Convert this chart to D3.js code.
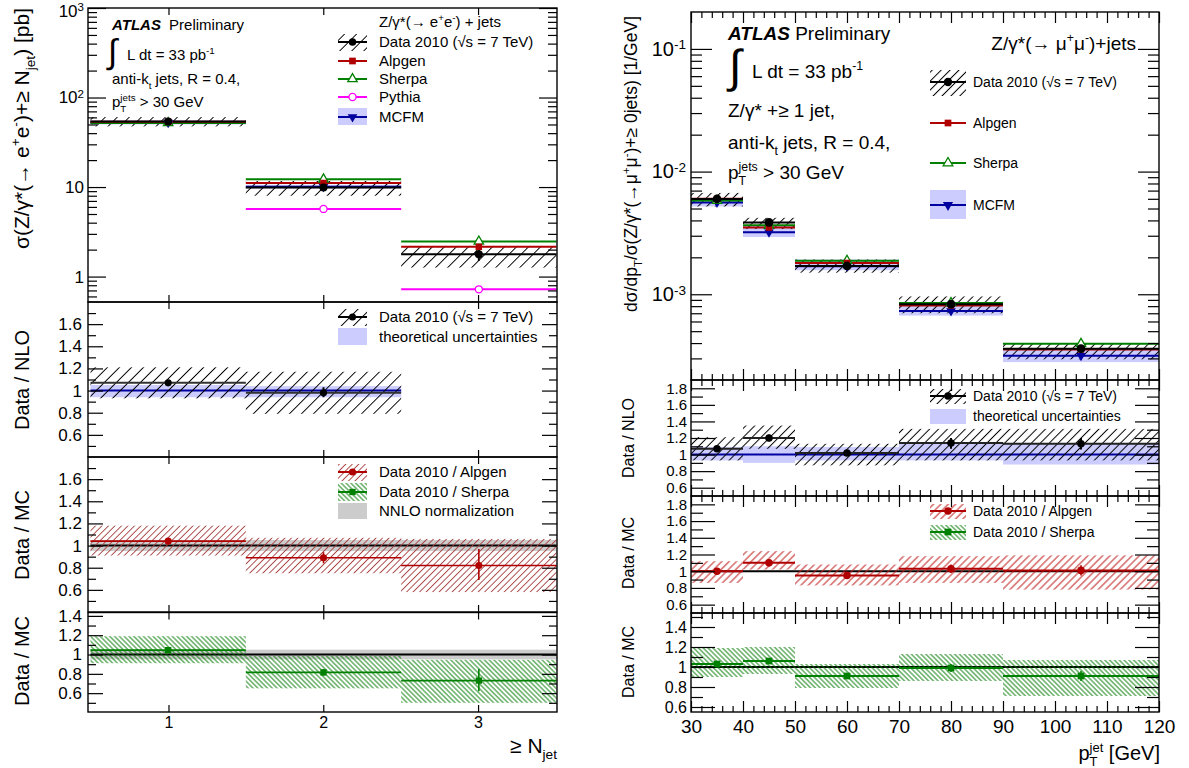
<!DOCTYPE html>
<html><head><meta charset="utf-8">
<script src="https://cdn.jsdelivr.net/npm/d3@7"></script>
<style>
body{margin:0;background:#fff}
svg{display:block}
text{font-family:"Liberation Sans",Arial,Helvetica,sans-serif}
</style></head>
<body><svg id="c" width="1189" height="768"></svg>
<script>
// ================= DATA : left plot (Z->ee, inclusive jet multiplicity) =================
const njetBins    = [[0.5,1.5],[1.5,2.5],[2.5,3.5]];
const njetCenters = [1, 2, 3];
const njetTicks   = [1, 2, 3];
const eeData      = [54, 9.9, 1.78];
const eeDataErrLo = [52.8, 9.5, 1.5];
const eeDataErrHi = [55.2, 10.3, 2.1];
const eeSystLo    = [47.6, 8.0, 1.26];
const eeSystHi    = [60.5, 11.7, 2.2];
const eeAlpgen    = [53.5, 11.1, 2.15];
const eeSherpa    = [52, 12.2, 2.47];
const eePythia    = [53, 5.7, 0.72];
const eeMcfm      = [52.5, 10.1, null];
const eeMcfmLo    = [50, 9.6, null];
const eeMcfmHi    = [55.5, 10.6, null];
// Data / NLO
const eeNlo       = [1.07, 0.98];
const eeNloErrLo  = [1.05, 0.94];
const eeNloErrHi  = [1.09, 1.03];
const eeNloSysLo  = [0.93, 0.79];
const eeNloSysHi  = [1.21, 1.17];
const eeTheoLo    = [0.94, 0.94];
const eeTheoHi    = [1.05, 1.04];
// Data / Alpgen
const eeAlp       = [1.04, 0.89, 0.82];
const eeAlpErrLo  = [1.025, 0.84, 0.69];
const eeAlpErrHi  = [1.055, 0.94, 0.97];
const eeAlpSysLo  = [0.91, 0.75, 0.58];
const eeAlpSysHi  = [1.18, 1.07, 1.06];
// Data / Sherpa
const eeShe       = [1.045, 0.815, 0.73];
const eeSheErrLo  = [1.03, 0.78, 0.62];
const eeSheErrHi  = [1.06, 0.85, 0.85];
const eeSheSysLo  = [0.91, 0.65, 0.50];
const eeSheSysHi  = [1.19, 0.985, 0.945];
const nnloBand    = [0.95, 1.05];

// ================= DATA : right plot (Z->mumu, leading jet pT) =================
const ptBins    = [[30,40],[40,50],[50,70],[70,90],[90,120]];
const ptCenters = [35, 45, 60, 80, 105];
const ptTicks   = [30, 40, 50, 60, 70, 80, 90, 100, 110, 120];
const mmData    = [5.98e-3, 3.85e-3, 1.70e-3, 8.3e-4, 3.6e-4];
const mmErrLo   = [5.85e-3, 3.72e-3, 1.65e-3, 7.9e-4, 3.35e-4];
const mmErrHi   = [6.1e-3, 3.98e-3, 1.75e-3, 8.7e-4, 3.85e-4];
const mmSysLo   = [5.2e-3, 3.4e-3, 1.5e-3, 7.0e-4, 2.95e-4];
const mmSysHi   = [6.7e-3, 4.2e-3, 1.92e-3, 9.6e-4, 4.0e-4];
const mmAlpgen  = [6.0e-3, 3.5e-3, 1.80e-3, 8.1e-4, 3.55e-4];
const mmSherpa  = [5.8e-3, 3.65e-3, 1.88e-3, 8.5e-4, 3.95e-4];
const mmMcfm    = [5.6e-3, 3.2e-3, 1.69e-3, 7.3e-4, 3.15e-4];
const mmMcfmLo  = [5.2e-3, 2.93e-3, 1.57e-3, 6.7e-4, 2.8e-4];
const mmMcfmHi  = [6.1e-3, 3.6e-3, 1.92e-3, 8.0e-4, 3.6e-4];
// Data / NLO
const mmNlo      = [1.07, 1.20, 1.02, 1.14, 1.13];
const mmNloErrLo = [1.04, 1.16, 0.99, 1.07, 1.06];
const mmNloErrHi = [1.09, 1.24, 1.04, 1.20, 1.20];
const mmNloSysLo = [0.93, 1.07, 0.87, 0.93, 0.93];
const mmNloSysHi = [1.21, 1.35, 1.13, 1.31, 1.31];
const mmTheoLo   = [0.93, 0.90, 0.93, 0.93, 0.88];
const mmTheoHi   = [1.09, 1.10, 1.09, 1.13, 1.13];
// Data / Alpgen
const mmAlp      = [1.00, 1.10, 0.95, 1.03, 1.01];
const mmAlpErrLo = [0.98, 1.07, 0.93, 0.98, 0.95];
const mmAlpErrHi = [1.02, 1.13, 0.97, 1.08, 1.07];
const mmAlpSysLo = [0.86, 1.02, 0.83, 0.86, 0.78];
const mmAlpSysHi = [1.12, 1.24, 1.08, 1.18, 1.19];
// Data / Sherpa
const mmShe      = [1.03, 1.06, 0.91, 0.99, 0.91];
const mmSheErrLo = [1.01, 1.03, 0.89, 0.95, 0.86];
const mmSheErrHi = [1.05, 1.09, 0.93, 1.03, 0.96];
const mmSheSysLo = [0.90, 0.93, 0.79, 0.86, 0.71];
const mmSheSysHi = [1.19, 1.20, 1.03, 1.13, 1.07];

// ================= STYLE =================
const FONT = '"Liberation Sans",Arial,Helvetica,sans-serif';
const C = {red:"#b00000", green:"#008000", blue:"#0000a0", band:"#ccccff",
           gray:"#cccccc", mag:"#ff00ff", hred:"#a84040", hredR:"#c02020", hgreen:"#007800"};

const svg = d3.select("#c");
svg.append("rect").attr("width",1189).attr("height",768).attr("fill","#fff");
const defs = svg.append("defs");
function hatch(id, sp, ang, col, w){
  const p = defs.append("pattern").attr("id",id).attr("patternUnits","userSpaceOnUse")
    .attr("width",sp).attr("height",sp).attr("patternTransform",`rotate(${ang})`);
  p.append("line").attr("x1",sp/2).attr("x2",sp/2).attr("y1",-1).attr("y2",sp+1)
    .attr("stroke",col).attr("stroke-width",w);
}
hatch("hBL", 8.5, 45, "#000", 1);
hatch("hBR", 6.3, 45, "#000", 1);
hatch("hRL", 4.6, 45, C.hred, 0.9);
hatch("hRR", 5.2, 45, C.hredR, 1);
hatch("hG", 3.4, -45, C.hgreen, 0.9);

// ================= HELPERS =================
function rows(bins, a, b){ return bins.map((bn,i)=>({b:bn, a:a[i], c:b?b[i]:null})).filter(d=>d.a!=null); }
function boxes(g,x,y,bins,lo,hi,fill){
  g.append("g").selectAll("rect").data(rows(bins,lo,hi)).join("rect")
   .attr("x",d=>x(d.b[0])).attr("width",d=>x(d.b[1])-x(d.b[0]))
   .attr("y",d=>y(d.c)).attr("height",d=>y(d.a)-y(d.c)).attr("fill",fill);
}
function hlines(g,x,y,bins,vals,col,w){
  g.append("g").selectAll("line").data(rows(bins,vals)).join("line")
   .attr("x1",d=>x(d.b[0])).attr("x2",d=>x(d.b[1])).attr("y1",d=>y(d.a)).attr("y2",d=>y(d.a))
   .attr("stroke",col).attr("stroke-width",w);
}
function vbars(g,x,y,cent,lo,hi,col,w){
  g.append("g").selectAll("line").data(rows(cent,lo,hi)).join("line")
   .attr("x1",d=>x(d.b)).attr("x2",d=>x(d.b)).attr("y1",d=>y(d.a)).attr("y2",d=>y(d.c))
   .attr("stroke",col).attr("stroke-width",w);
}
function sym(type,size){
  const m={circle:d3.symbolCircle,square:d3.symbolSquare,tri:d3.symbolTriangle,tridown:d3.symbolTriangle};
  return d3.symbol().type(m[type]).size(size)();
}
function marks(g,x,y,cent,vals,type,col,size,open){
  g.append("g").selectAll("path").data(rows(cent,vals)).join("path")
   .attr("d",sym(type,size))
   .attr("transform",d=>`translate(${x(d.b)},${y(d.a)})${type==="tridown"?" rotate(180)":""}`)
   .attr("fill",open?"#fff":col).attr("stroke",col).attr("stroke-width",open?1.3:0);
}
function rich(g,x,y,segs,size,o={}){
  const t=g.append("text").attr("x",x).attr("y",y).attr("font-size",size)
    .attr("text-anchor",o.anchor||"start").attr("fill","#000");
  if(o.transform) t.attr("transform",o.transform);
  let shift=0, prev=null;
  for(const s0 of segs){
    const s = typeof s0==="string"?{t:s0}:s0;
    const target = s.sup ? -size*0.42 : s.sub ? size*0.3 : 0;
    const sp = t.append("tspan").text(s.t)
      .attr("font-size",(s.sup||s.sub)?size*(s.scale||0.65):(s.size||size))
      .attr("dy",target-shift);
    if(s.bold) sp.attr("font-weight","bold");
    if(s.italic) sp.attr("font-style","italic");
    if(s.dx) sp.attr("dx",s.dx);
    if(s.stack && prev) sp.attr("dx",-prev.node().getComputedTextLength());
    shift=target; prev=sp;
  }
  return t;
}
function styleAxis(a,size){
  a.attr("font-family",FONT).attr("font-size",size);
  a.select(".domain").remove();
  a.selectAll(".tick line").attr("stroke-width",1.2);
}
// frame + ticks for a panel
function panelAxes(g,x,y,P){
  const [x0,x1]=x.range(), [y1,y0]=y.range();
  const al = g.append("g").attr("transform",`translate(${x0},0)`)
    .call(d3.axisLeft(y).tickValues(P.yMajor).tickSizeInner(-P.yMaj).tickSizeOuter(0).tickPadding(P.pad).tickFormat(P.fmt));
  styleAxis(al,P.lsize);
  if(P.post) P.post(al);
  const aml = g.append("g").attr("transform",`translate(${x0},0)`)
    .call(d3.axisLeft(y).tickValues(P.yMinor).tickSizeInner(-P.yMin).tickSizeOuter(0).tickFormat(""));
  styleAxis(aml,10);
  const ar = g.append("g").attr("transform",`translate(${x1},0)`)
    .call(d3.axisRight(y).tickValues(P.yMajor).tickSizeInner(-P.yMaj).tickSizeOuter(0).tickFormat(""));
  styleAxis(ar,10);
  const amr = g.append("g").attr("transform",`translate(${x1},0)`)
    .call(d3.axisRight(y).tickValues(P.yMinor).tickSizeInner(-P.yMin).tickSizeOuter(0).tickFormat(""));
  styleAxis(amr,10);
  const xt = g.append("g").attr("transform",`translate(0,${y0})`)
    .call(d3.axisTop(x).tickValues(P.xMajor).tickSizeInner(-P.xMaj).tickSizeOuter(0).tickFormat(""));
  styleAxis(xt,10);
  const xb = g.append("g").attr("transform",`translate(0,${y1})`)
    .call(d3.axisBottom(x).tickValues(P.xMajor).tickSizeInner(-P.xMaj).tickSizeOuter(0)
      .tickPadding(P.xPad||6).tickFormat(P.xLabels?d3.format("d"):""));
  styleAxis(xb,P.xlsize||16);
  if(P.xMinor){
    const xtm = g.append("g").attr("transform",`translate(0,${y0})`)
      .call(d3.axisTop(x).tickValues(P.xMinor).tickSizeInner(-P.xMin).tickSizeOuter(0).tickFormat(""));
    styleAxis(xtm,10);
    const xbm = g.append("g").attr("transform",`translate(0,${y1})`)
      .call(d3.axisBottom(x).tickValues(P.xMinor).tickSizeInner(-P.xMin).tickSizeOuter(0).tickFormat(""));
    styleAxis(xbm,10);
  }
  g.append("rect").attr("x",x0).attr("y",y0).attr("width",x1-x0).attr("height",y1-y0)
   .attr("fill","none").attr("stroke","#000").attr("stroke-width",1.4);
}
function logMinor(lo,hi){
  const out=[]; for(let n=Math.floor(Math.log10(lo)); n<=Math.ceil(Math.log10(hi)); n++)
    for(let k=2;k<=9;k++){const v=k*Math.pow(10,n); if(v>lo*1.0001&&v<hi*0.9999) out.push(+v.toPrecision(3));}
  return out;
}
function linMinor(lo,hi,step,majors){
  const out=[]; for(let v=Math.ceil(lo/step)*step; v<=hi+1e-9; v+=step){const r=+v.toFixed(3); if(!majors.some(m=>Math.abs(m-r)<1e-6)) out.push(r);} return out;
}
function powLabels(a){
  a.selectAll(".tick text").each(function(d){
    const n=Math.round(Math.log10(d)); const t=d3.select(this);
    if(n>=2||n<0){ t.text("10"); t.append("tspan").attr("dy","-0.48em").attr("font-size","0.68em").text(n); }
  });
}
function legLine(g,x0,x1,yc,col,w){ g.append("line").attr("x1",x0).attr("x2",x1).attr("y1",yc).attr("y2",yc).attr("stroke",col).attr("stroke-width",w); }
function legBox(g,x0,x1,y0,y1,fill){ g.append("rect").attr("x",x0).attr("y",y0).attr("width",x1-x0).attr("height",y1-y0).attr("fill",fill); }
function legSym(g,xc,yc,type,col,size,open){
  g.append("path").attr("d",sym(type,size)).attr("transform",`translate(${xc},${yc})${type==="tridown"?" rotate(180)":""}`)
   .attr("fill",open?"#fff":col).attr("stroke",col).attr("stroke-width",open?1.3:0);
}

// ================= LEFT PLOT =================
const L = svg.append("g");
const xL = d3.scaleLinear().domain([0.5,3.5]).range([90.5,556.5]);
const xLframe = d3.scaleLinear().domain([0.48,3.51]).range([88,557]);
const yL0 = d3.scaleLog().domain([0.52,1000]).range([302,8]);
const yL1 = d3.scaleLinear().domain([0.4,1.8]).range([457,302]);
const yL2 = d3.scaleLinear().domain([0.4,1.8]).range([612,457]);
const yL3 = d3.scaleLinear().domain([0.405,1.435]).range([712,612.5]);
const ratioMajL = [0.6,0.8,1,1.2,1.4,1.6];

// main panel
boxes(L,xL,yL0,njetBins,eeMcfmLo,eeMcfmHi,C.band);
boxes(L,xL,yL0,njetBins,eeSystLo,eeSystHi,"url(#hBL)");
hlines(L,xL,yL0,njetBins,eePythia,C.mag,2);
hlines(L,xL,yL0,njetBins,eeMcfm,C.blue,2);
hlines(L,xL,yL0,njetBins,eeSherpa,C.green,2);
hlines(L,xL,yL0,njetBins,eeAlpgen,C.red,2);
hlines(L,xL,yL0,njetBins,eeData,"#000",2);
vbars(L,xL,yL0,njetCenters,eeDataErrLo,eeDataErrHi,"#000",2);
marks(L,xL,yL0,njetCenters,eePythia,"circle",C.mag,40,true);
marks(L,xL,yL0,njetCenters,eeMcfm,"tridown",C.blue,40,false);
marks(L,xL,yL0,njetCenters,eeSherpa,"tri",C.green,38,true);
marks(L,xL,yL0,njetCenters,eeAlpgen,"square",C.red,42,false);
marks(L,xL,yL0,njetCenters,eeData,"circle","#000",50,false);
panelAxes(L,xLframe,yL0,{yMajor:[1,10,100,1000],yMinor:logMinor(0.52,1000),yMaj:18,yMin:9,pad:4,
  fmt:d=>d, lsize:17, post:a=>{powLabels(a); a.selectAll(".tick text").filter(d=>d===1000).attr("y",3);},
  xMajor:njetTicks, xMaj:7});

// Data/NLO panel
boxes(L,xL,yL1,njetBins.slice(0,2),eeTheoLo,eeTheoHi,C.band);
hlines(L,xL,yL1,njetBins.slice(0,2),[1,1],C.blue,2);
boxes(L,xL,yL1,njetBins.slice(0,2),eeNloSysLo,eeNloSysHi,"url(#hBL)");
hlines(L,xL,yL1,njetBins.slice(0,2),eeNlo,"#333",2);
vbars(L,xL,yL1,njetCenters.slice(0,2),eeNloErrLo,eeNloErrHi,"#000",2);
marks(L,xL,yL1,njetCenters.slice(0,2),eeNlo,"circle","#000",40,false);
panelAxes(L,xLframe,yL1,{yMajor:ratioMajL,yMinor:linMinor(0.41,1.79,0.1,ratioMajL),yMaj:15,yMin:8,pad:6,
  fmt:d3.format("~g"), lsize:17, xMajor:njetTicks, xMaj:7});

// Data/Alpgen panel
boxes(L,xL,yL2,[[0.5,3.5]],[nnloBand[0]],[nnloBand[1]],C.gray);
hlines(L,xL,yL2,[[0.5,3.5]],[1],"#000",2);
boxes(L,xL,yL2,njetBins,eeAlpSysLo,eeAlpSysHi,"url(#hRL)");
hlines(L,xL,yL2,njetBins,eeAlp,C.red,1.6);
vbars(L,xL,yL2,njetCenters,eeAlpErrLo,eeAlpErrHi,C.red,1.6);
marks(L,xL,yL2,njetCenters,eeAlp,"circle",C.red,40,false);
panelAxes(L,xLframe,yL2,{yMajor:ratioMajL,yMinor:linMinor(0.41,1.79,0.1,ratioMajL),yMaj:15,yMin:8,pad:6,
  fmt:d3.format("~g"), lsize:17, xMajor:njetTicks, xMaj:7});

// Data/Sherpa panel
boxes(L,xL,yL3,[[0.5,3.5]],[nnloBand[0]],[nnloBand[1]],C.gray);
hlines(L,xL,yL3,[[0.5,3.5]],[1],"#000",2);
boxes(L,xL,yL3,njetBins,eeSheSysLo,eeSheSysHi,"url(#hG)");
hlines(L,xL,yL3,njetBins,eeShe,C.green,1.6);
vbars(L,xL,yL3,njetCenters,eeSheErrLo,eeSheErrHi,C.green,1.6);
marks(L,xL,yL3,njetCenters,eeShe,"square",C.green,40,false);
const majL3=[0.6,0.8,1,1.2,1.4];
panelAxes(L,xLframe,yL3,{yMajor:majL3,yMinor:linMinor(0.41,1.43,0.1,majL3),yMaj:15,yMin:8,pad:6,
  fmt:d3.format("~g"), lsize:17, xMajor:njetTicks, xMaj:7, xLabels:true, xPad:5, xlsize:16});

// Left texts
rich(L,112,30,[{t:"ATLAS",bold:true,italic:true}," ",{t:"Preliminary",dx:4}],15);
L.append("text").attr("x",108).attr("y",63).attr("font-size",34).attr("font-family","DejaVu Sans").text("∫");
rich(L,127,60,["L dt = 33 pb",{t:"-1",sup:true}],15);
rich(L,112,84,["anti-k",{t:"t",sub:true},{t:" jets, R = 0.4,"}],15);
rich(L,112,107,["p",{t:"T",sub:true},{t:"jets",sup:true,stack:true}," > 30 GeV"],15);
const lx0=338, lx1=367, lxc=352.5, ltx=379;
rich(L,ltx,27,["Z/γ*(→ e",{t:"+",sup:true},"e",{t:"-",sup:true},") + jets"],15);
legBox(L,lx0,lx1,34,51,"url(#hBL)"); legLine(L,lx0,lx1,42,"#000",2); legSym(L,lxc,42,"circle","#000",45);
rich(L,ltx,47,["Data 2010 (√s = 7 TeV)"],15);
legLine(L,lx0,lx1,61,C.red,2); legSym(L,lxc,61,"square",C.red,45); rich(L,ltx,66,["Alpgen"],15);
legLine(L,lx0,lx1,79,C.green,2); legSym(L,lxc,79,"tri",C.green,38,true); rich(L,ltx,84,["Sherpa"],15);
legLine(L,lx0,lx1,97,C.mag,2); legSym(L,lxc,97,"circle",C.mag,40,true); rich(L,ltx,102,["Pythia"],15);
legBox(L,lx0,lx1,108,125,C.band); legLine(L,lx0,lx1,117,C.blue,2); legSym(L,lxc,117,"tridown",C.blue,40); rich(L,ltx,122,["MCFM"],15);
legBox(L,lx0,lx1,309,326,"url(#hBL)"); legLine(L,lx0,lx1,317,"#000",2); legSym(L,lxc,317,"circle","#000",40);
rich(L,ltx,322,["Data 2010 (√s = 7 TeV)"],15);
legBox(L,lx0,lx1,328,345,C.band); rich(L,ltx,342,["theoretical uncertainties"],15);
legBox(L,lx0,lx1,464,481,"url(#hRL)"); legLine(L,lx0,lx1,472,C.red,2); legSym(L,lxc,472,"circle",C.red,40);
rich(L,ltx,477,["Data 2010 / Alpgen"],15);
legBox(L,lx0,lx1,483,501,"url(#hG)"); legLine(L,lx0,lx1,492,C.green,2); legSym(L,lxc,492,"square",C.green,40);
rich(L,ltx,497,["Data 2010 / Sherpa"],15);
legBox(L,lx0,lx1,503,519,C.gray); rich(L,ltx,516,["NNLO normalization"],15);
// y titles
rich(L,0,0,["σ(Z/γ*(→ e",{t:"+",sup:true},"e",{t:"-",sup:true},")+≥ N",{t:"jet",sub:true},") [pb]"],21,
  {anchor:"end",transform:"translate(29,8) rotate(-90)"});
rich(L,0,0,["Data / NLO"],20,{anchor:"middle",transform:"translate(29,380) rotate(-90)"});
rich(L,0,0,["Data / MC"],20,{anchor:"middle",transform:"translate(29,535) rotate(-90)"});
rich(L,0,0,["Data / MC"],20,{anchor:"middle",transform:"translate(29,661) rotate(-90)"});
rich(L,557,753,["≥ N",{t:"jet",sub:true}],21,{anchor:"end"});

// ================= RIGHT PLOT =================
const R = svg.append("g");
const xR = d3.scaleLinear().domain([30,120]).range([691,1159]);
const yR0 = d3.scaleLog().domain([2e-4,0.2]).range([380,12]);
const yR1 = d3.scaleLinear().domain([0.5,1.9]).range([496,380]);
const yR2 = d3.scaleLinear().domain([0.5,1.9]).range([613,496]);
const yR3 = d3.scaleLinear().domain([0.55,1.54]).range([712,613]);
const ptMinor = linMinor(30,120,2,ptTicks);
const ratioMajR = [0.6,0.8,1,1.2,1.4,1.6,1.8];

// main
boxes(R,xR,yR0,ptBins,mmMcfmLo,mmMcfmHi,C.band);
boxes(R,xR,yR0,ptBins,mmSysLo,mmSysHi,"url(#hBR)");
hlines(R,xR,yR0,ptBins,mmMcfm,C.blue,2);
hlines(R,xR,yR0,ptBins,mmSherpa,C.green,2);
hlines(R,xR,yR0,ptBins,mmAlpgen,C.red,2);
hlines(R,xR,yR0,ptBins,mmData,"#000",2);
vbars(R,xR,yR0,ptCenters,mmErrLo,mmErrHi,"#000",2);
marks(R,xR,yR0,ptCenters,mmMcfm,"tridown",C.blue,40,false);
marks(R,xR,yR0,ptCenters,mmSherpa,"tri",C.green,38,true);
marks(R,xR,yR0,ptCenters,mmAlpgen,"square",C.red,42,false);
marks(R,xR,yR0,ptCenters,mmData,"circle","#000",60,false);
panelAxes(R,xR,yR0,{yMajor:[1e-3,1e-2,1e-1],yMinor:logMinor(2e-4,0.2),yMaj:21,yMin:11,pad:5,
  fmt:d=>d, lsize:20, post:powLabels, xMajor:ptTicks, xMaj:11, xMinor:ptMinor, xMin:6});

// Data/NLO
boxes(R,xR,yR1,ptBins,mmTheoLo,mmTheoHi,C.band);
hlines(R,xR,yR1,[[30,120]],[1],C.blue,2);
boxes(R,xR,yR1,ptBins,mmNloSysLo,mmNloSysHi,"url(#hBR)");
hlines(R,xR,yR1,ptBins,mmNlo,"#222",2);
vbars(R,xR,yR1,ptCenters,mmNloErrLo,mmNloErrHi,"#000",2);
marks(R,xR,yR1,ptCenters,mmNlo,"circle","#000",45,false);
panelAxes(R,xR,yR1,{yMajor:ratioMajR,yMinor:linMinor(0.51,1.89,0.1,ratioMajR),yMaj:24,yMin:12,pad:4,
  fmt:d3.format("~g"), lsize:15, xMajor:ptTicks, xMaj:11, xMinor:ptMinor, xMin:6});

// Data/Alpgen
hlines(R,xR,yR2,[[30,120]],[1],"#000",2);
boxes(R,xR,yR2,ptBins,mmAlpSysLo,mmAlpSysHi,"url(#hRR)");
hlines(R,xR,yR2,ptBins,mmAlp,C.red,2);
vbars(R,xR,yR2,ptCenters,mmAlpErrLo,mmAlpErrHi,C.red,1.6);
marks(R,xR,yR2,ptCenters,mmAlp,"circle",C.red,45,false);
panelAxes(R,xR,yR2,{yMajor:ratioMajR,yMinor:linMinor(0.51,1.89,0.1,ratioMajR),yMaj:24,yMin:12,pad:4,
  fmt:d3.format("~g"), lsize:15, xMajor:ptTicks, xMaj:11, xMinor:ptMinor, xMin:6});

// Data/Sherpa
hlines(R,xR,yR3,[[30,120]],[1],"#000",2);
boxes(R,xR,yR3,ptBins,mmSheSysLo,mmSheSysHi,"url(#hG)");
hlines(R,xR,yR3,ptBins,mmShe,C.green,2);
vbars(R,xR,yR3,ptCenters,mmSheErrLo,mmSheErrHi,C.green,1.6);
marks(R,xR,yR3,ptCenters,mmShe,"square",C.green,45,false);
const majR3=[0.6,0.8,1,1.2,1.4];
panelAxes(R,xR,yR3,{yMajor:majR3,yMinor:linMinor(0.56,1.53,0.1,majR3),yMaj:24,yMin:12,pad:4,
  fmt:d3.format("~g"), lsize:16, xMajor:ptTicks, xMaj:11, xMinor:ptMinor, xMin:6, xLabels:true, xPad:8, xlsize:19});

// Right texts
rich(R,728,40,[{t:"ATLAS",bold:true,italic:true},{t:" Preliminary"}],19);
R.append("text").attr("x",729).attr("y",82).attr("font-size",46).attr("font-family","DejaVu Sans").text("∫");
rich(R,752,78,["L dt = 33 pb",{t:"-1",sup:true}],19);
rich(R,728,117,["Z/γ* +≥ 1 jet,"],19);
rich(R,728,149,["anti-k",{t:"t",sub:true},{t:" jets,  R = 0.4,"}],19);
rich(R,728,179,["p",{t:"T",sub:true},{t:"jets",sup:true,stack:true}," > 30 GeV"],19);
rich(R,1136,50,["Z/γ*(→ μ",{t:"+",sup:true},"μ",{t:"-",sup:true},")+jets"],19,{anchor:"end"});
const rx0=930, rx1=966, rxc=948, rtx=973;
legBox(R,rx0,rx1,70,96,"url(#hBR)"); legLine(R,rx0,rx1,82,"#000",2); legSym(R,rxc,82,"circle","#000",55);
rich(R,rtx,87,["Data 2010 (√s = 7 TeV)"],14);
legLine(R,rx0,rx1,123,C.red,2); legSym(R,rxc,123,"square",C.red,45); rich(R,rtx,128,["Alpgen"],14);
legLine(R,rx0,rx1,163,C.green,2); legSym(R,rxc,163,"tri",C.green,40,true); rich(R,rtx,168,["Sherpa"],14);
legBox(R,rx0,rx1,190,219,C.band); legLine(R,rx0,rx1,205,C.blue,2); legSym(R,rxc,205,"tridown",C.blue,45); rich(R,rtx,210,["MCFM"],14);
legBox(R,rx0,rx1,389,404,"url(#hBR)"); legLine(R,rx0,rx1,396,"#000",2); legSym(R,rxc,396,"circle","#000",45);
rich(R,rtx,401,["Data 2010 (√s = 7 TeV)"],14);
legBox(R,rx0,rx1,409,424,C.band); rich(R,rtx,421,["theoretical uncertainties"],14);
legBox(R,rx0,rx1,504,519,"url(#hRR)"); legLine(R,rx0,rx1,511,C.red,2); legSym(R,rxc,511,"circle",C.red,45);
rich(R,rtx,516,["Data 2010 / Alpgen"],14);
legBox(R,rx0,rx1,525,540,"url(#hG)"); legLine(R,rx0,rx1,532,C.green,2); legSym(R,rxc,532,"square",C.green,45);
rich(R,rtx,537,["Data 2010 / Sherpa"],14);
// y titles
rich(R,0,0,["dσ/dp",{t:"T",sub:true},"/σ(Z/γ*(→μ",{t:"+",sup:true},"μ",{t:"-",sup:true},")+≥ 0jets) [1/GeV]"],17.5,
  {anchor:"end",transform:"translate(637,16) rotate(-90)"});
rich(R,0,0,["Data / NLO"],16,{anchor:"middle",transform:"translate(634,438) rotate(-90)"});
rich(R,0,0,["Data / MC"],16,{anchor:"middle",transform:"translate(634,553) rotate(-90)"});
rich(R,0,0,["Data / MC"],16,{anchor:"middle",transform:"translate(634,662) rotate(-90)"});
rich(R,1160,760,["p",{t:"T",sub:true},{t:"jet",sup:true,stack:true}," [GeV]"],20,{anchor:"end"});
</script></body></html>
